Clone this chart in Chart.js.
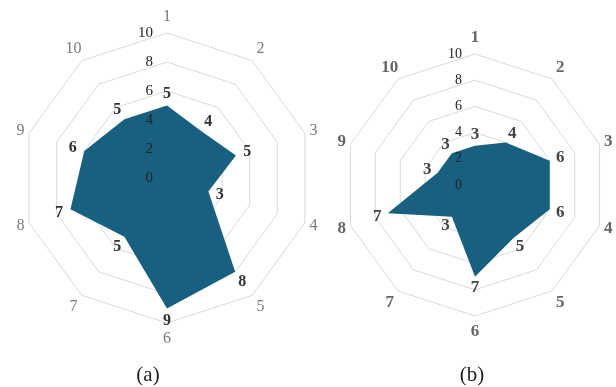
<!DOCTYPE html>
<html>
<head>
<meta charset="utf-8">
<script src="https://cdn.jsdelivr.net/npm/chart.js@4.4.1/dist/chart.umd.min.js"></script>
<style>
  html, body { margin: 0; padding: 0; background: #fff; }
  #wrap { position: relative; width: 616px; height: 387px; overflow: hidden; }
  #wrap canvas { position: absolute; left: 0; top: 0; }
  .cap { position: absolute; top: 362px; width: 60px; text-align: center;
         font-family: "Liberation Serif", "Times New Roman", serif; font-size: 21px; color: #222; line-height: 24px; }
</style>
</head>
<body>
<div id="wrap">
  <canvas id="chartA" width="616" height="387"></canvas>
  <canvas id="chartB" width="616" height="387"></canvas>
  <div class="cap" style="left:118px">(a)</div>
  <div class="cap" style="left:442px">(b)</div>
</div>
<script>
// Axis names around each radar, clockwise from the top
const axisLabels = ['1', '2', '3', '4', '5', '6', '7', '8', '9', '10'];
// Scores for panel (a) and panel (b)
const seriesA = [5, 4, 5, 3, 8, 9, 5, 7, 6, 5];
const seriesB = [3, 4, 6, 6, 5, 7, 3, 7, 3, 3];
// Ring values printed along the upward axis
const tickValues = [0, 2, 4, 6, 8, 10];

const SERIF = '"Liberation Serif", "Times New Roman", serif';
const FILL = '#17607f';

// Draws ring values, axis names and the value beside each vertex
function radarText(style) {
  return {
    id: 'radarText',
    afterDatasetsDraw(chart) {
      const ctx = chart.ctx;
      const r = chart.scales.r;
      const R = r.drawingArea;
      ctx.save();
      ctx.textBaseline = 'middle';

      // ring values
      ctx.font = style.tickFont;
      ctx.fillStyle = style.tickColor;
      ctx.textAlign = 'right';
      tickValues.forEach(v => {
        const d = r.getDistanceFromCenterForValue(v);
        ctx.fillText(String(v), r.xCenter + style.tickDx, r.yCenter - d);
      });

      // axis names
      ctx.font = style.axisFont;
      ctx.fillStyle = style.axisColor;
      ctx.textAlign = 'center';
      axisLabels.forEach((lab, i) => {
        const ang = (Math.PI * 2 * i) / axisLabels.length;
        const off = 6 + Math.abs(Math.cos(ang)) * 10;
        const p = r.getPointPosition(i, R + off);
        ctx.fillText(lab, p.x, p.y);
      });

      // vertex values
      const data = chart.data.datasets[0].data;
      ctx.font = style.valueFont;
      ctx.fillStyle = style.valueColor;
      data.forEach((v, i) => {
        const d = r.getDistanceFromCenterForValue(v);
        const p = r.getPointPosition(i, d + style.valueOff);
        ctx.fillText(String(v), p.x, p.y);
      });
      ctx.restore();
    }
  };
}

function makeRadar(id, values, padding, style) {
  return new Chart(document.getElementById(id), {
    type: 'radar',
    data: {
      labels: axisLabels,
      datasets: [{
        data: values,
        fill: true,
        backgroundColor: FILL,
        borderWidth: 0,
        pointRadius: 0,
        pointHoverRadius: 0
      }]
    },
    options: {
      responsive: false,
      animation: false,
      layout: { padding },
      plugins: { legend: { display: false }, tooltip: { enabled: false } },
      elements: { line: { tension: 0 } },
      scales: {
        r: {
          min: 0,
          max: 10,
          ticks: { stepSize: 2, display: false },
          grid: { color: '#d9d9d9', lineWidth: 1 },
          angleLines: { display: false },
          pointLabels: { display: false }
        }
      }
    },
    plugins: [radarText(style)]
  });
}

makeRadar('chartA', seriesA, { left: 22, top: 33, right: 304, bottom: 64 }, {
  tickFont: '15px ' + SERIF, tickColor: '#222', tickDx: -14,
  axisFont: '16px ' + SERIF, axisColor: '#7a7a7a',
  valueFont: 'bold 16px ' + SERIF, valueColor: '#333', valueOff: 12
});

makeRadar('chartB', seriesB, { left: 344, top: 54, right: 10, bottom: 71 }, {
  tickFont: '14px ' + SERIF, tickColor: '#222', tickDx: -13,
  axisFont: 'bold 17px ' + SERIF, axisColor: '#666',
  valueFont: 'bold 17px ' + SERIF, valueColor: '#444', valueOff: 11
});
</script>
</body>
</html>
